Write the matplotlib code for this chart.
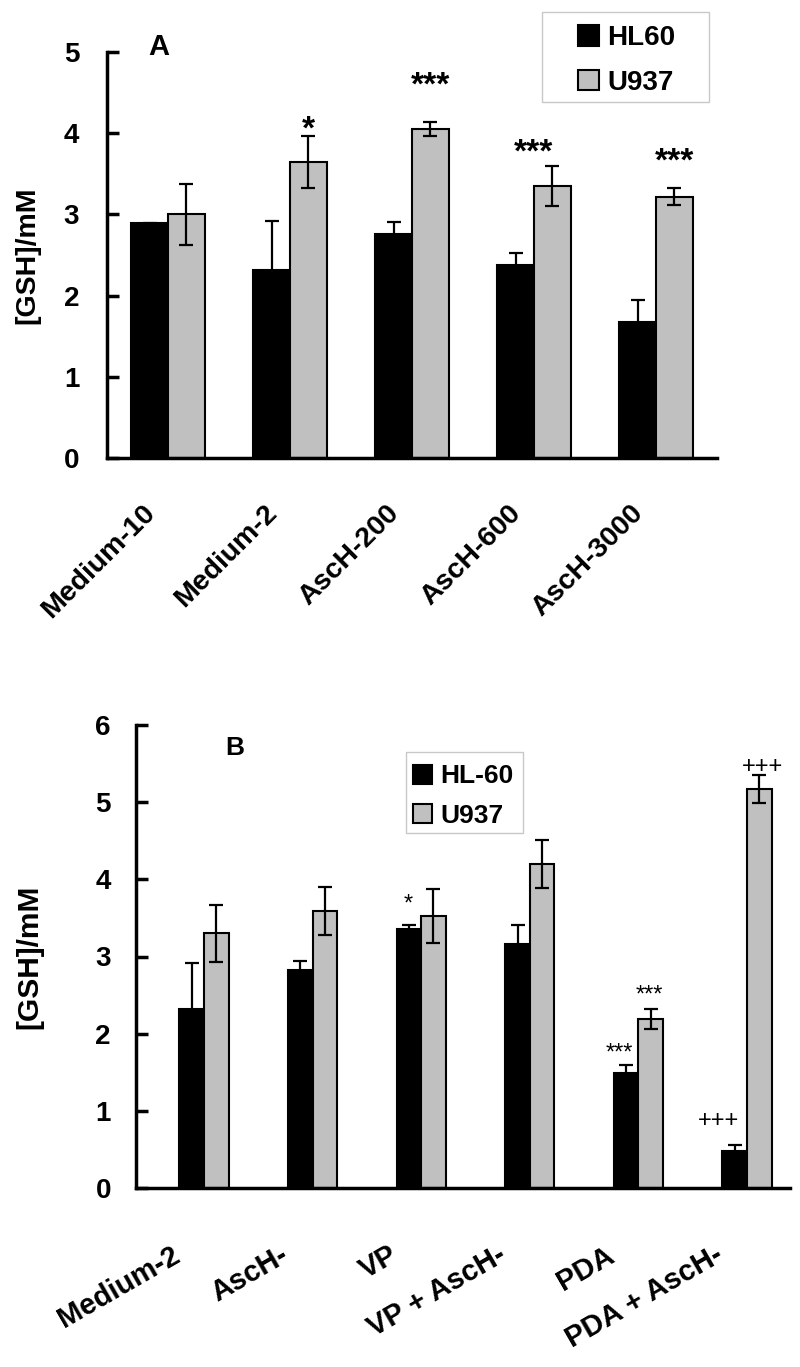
import matplotlib
matplotlib.use('Agg')
import matplotlib.pyplot as plt
from matplotlib.patches import Rectangle
from matplotlib.transforms import ScaledTranslation
import numpy as np

plt.rcParams['font.family'] = ['Liberation Sans', 'DejaVu Sans']
plt.rcParams['font.weight'] = 'bold'

# ---------------- data ----------------
a_categories = ['Medium-10', 'Medium-2', 'AscH-200', 'AscH-600', 'AscH-3000']
a_hl60 = [2.89, 2.32, 2.76, 2.38, 1.67]
a_hl60_err = [0.01, 0.60, 0.15, 0.14, 0.27]
a_u937 = [3.00, 3.65, 4.05, 3.35, 3.22]
a_u937_err = [0.38, 0.32, 0.09, 0.25, 0.10]
a_marks = ['', '*', '***', '***', '***']

b_categories = ['Medium-2', 'AscH-', 'VP', 'VP + AscH-', 'PDA', 'PDA + AscH-']
b_hl60 = [2.32, 2.82, 3.35, 3.16, 1.49, 0.48]
b_hl60_err = [0.60, 0.12, 0.06, 0.25, 0.10, 0.08]
b_u937 = [3.30, 3.59, 3.52, 4.20, 2.19, 5.17]
b_u937_err = [0.37, 0.31, 0.35, 0.31, 0.13, 0.18]
b_hl60_marks = ['', '', '*', '', '***', '+++']
b_u937_marks = ['', '', '', '', '***', '+++']

# ---------------- layout ----------------
# annotation placement (x offset from group centre, baseline y in data units)
a_mark_dx = [0, 0.15, 0.15, 0.0, 0.15]
a_mark_y = [0, 3.93, 4.475, 3.655, 3.535]
b_hl60_mark_dx = [0, 0, -0.115, 0, -0.175, -0.26]
b_hl60_mark_y = [0, 0, 3.59, 0, 1.67, 0.79]
b_u937_mark_dx = [0, 0, 0, 0, 0.10, 0.14]
b_u937_mark_y = [0, 0, 0, 0, 2.42, 5.38]

W, H = 800, 1367
fig = plt.figure(figsize=(W / 100, H / 100), dpi=100)

GRAY = '#c0c0c0'


def px_rect(l, t, r, b):
    return [l / W, 1 - b / H, (r - l) / W, (b - t) / H]


def style_axes(ax, pad):
    for s in ['top', 'right']:
        ax.spines[s].set_visible(False)
    for s in ['left', 'bottom']:
        ax.spines[s].set_linewidth(2.5)
    ax.tick_params(axis='y', direction='in', length=8.6, width=2.5,
                   labelsize=20, pad=pad)
    ax.tick_params(axis='x', length=0, labelbottom=False)
    for lab in ax.get_yticklabels():
        lab.set_fontweight('bold')


def draw_panel(ax, cats, hl, hle, u, ue, w, cap):
    x = np.arange(len(cats))
    b1 = ax.bar(x - w / 2, hl, w, color='black', edgecolor='black',
                linewidth=1.5, zorder=2)
    b2 = ax.bar(x + w / 2, u, w, color=GRAY, edgecolor='black',
                linewidth=1.5, zorder=2)
    ax.errorbar(x - w / 2, hl, yerr=hle, fmt='none', ecolor='black',
                elinewidth=1.6, capsize=cap, capthick=1.6, zorder=3)
    ax.errorbar(x + w / 2, u, yerr=ue, fmt='none', ecolor='black',
                elinewidth=1.6, capsize=cap, capthick=1.6, zorder=3)
    return x, b1, b2


def xlabels(ax, x, cats, rot, dx_px, dy_px, size):
    for xi, c in zip(x, cats):
        tr = ax.get_xaxis_transform() + ScaledTranslation(
            dx_px / 100, dy_px / 100, fig.dpi_scale_trans)
        ax.text(xi, 0, c, transform=tr, rotation=rot, rotation_mode='anchor',
                ha='right', va='baseline', fontsize=size, fontweight='bold',
                clip_on=False)


# ---------------- Panel A ----------------
axA = fig.add_axes(px_rect(107, 52, 717, 458))
xA, a1, a2 = draw_panel(axA, a_categories, a_hl60, a_hl60_err,
                        a_u937, a_u937_err, 0.3, 4.8)
axA.set_xlim(-0.5, 4.5)
axA.set_ylim(0, 5)
axA.set_yticks(range(0, 6))
style_axes(axA, 20)
xlabels(axA, xA, a_categories, 45, -12, -56, 20.5)
for xi, m, dx, yy in zip(xA, a_marks, a_mark_dx, a_mark_y):
    if m:
        axA.text(xi + dx, yy, m, ha='center', va='baseline', fontsize=24,
                 fontweight='bold')
axA.text(-0.164, 4.96, 'A', fontsize=21, fontweight='bold', ha='left',
         va='baseline')
axA.legend([a1, a2], ['HL60', 'U937'], loc='center left',
           bbox_to_anchor=(578 / W, 1 - 60.5 / H),
           bbox_transform=fig.transFigure, frameon=False, borderpad=0,
           borderaxespad=0, handlelength=0.75, handleheight=0.75,
           handletextpad=0.3, labelspacing=0.67,
           prop={'size': 20, 'weight': 'bold'})
fig.add_artist(Rectangle((542 / W, 1 - 102 / H), 167 / W, 90 / H,
                         transform=fig.transFigure, fill=False,
                         edgecolor='#c8c8c8', linewidth=1))
fig.text(27 / W, 1 - 255 / H, '[GSH]/mM', rotation=90, ha='center',
         va='center', fontsize=20.5, fontweight='bold')

# ---------------- Panel B ----------------
axB = fig.add_axes(px_rect(136, 725, 790, 1188))
xB, c1, c2 = draw_panel(axB, b_categories, b_hl60, b_hl60_err,
                        b_u937, b_u937_err, 0.226, 5.0)
axB.set_xlim(-0.626, 5.396)
axB.set_ylim(0, 6)
axB.set_yticks(range(0, 7))
style_axes(axB, 18)
xlabels(axB, xB, b_categories, 30, -22, -72, 21)
for xi, m, dx, yy in zip(xB, b_hl60_marks, b_hl60_mark_dx, b_hl60_mark_y):
    if m:
        axB.text(xi + dx, yy, m, ha='center', va='baseline', fontsize=17,
                 fontweight='normal')
for xi, m, dx, yy in zip(xB, b_u937_marks, b_u937_mark_dx, b_u937_mark_y):
    if m:
        axB.text(xi + dx, yy, m, ha='center', va='baseline', fontsize=17,
                 fontweight='normal')
axB.text(0.2, 5.61, 'B', fontsize=19, fontweight='bold', ha='left',
         va='baseline')
axB.legend([c1, c2], ['HL-60', 'U937'], loc='center left',
           bbox_to_anchor=(413 / W, 1 - 796 / H),
           bbox_transform=fig.transFigure, frameon=False, borderpad=0,
           borderaxespad=0, handlelength=0.72, handleheight=0.72,
           handletextpad=0.3, labelspacing=0.58,
           prop={'size': 19, 'weight': 'bold'})
fig.add_artist(Rectangle((406 / W, 1 - 833 / H), 117 / W, 81 / H,
                         transform=fig.transFigure, fill=False,
                         edgecolor='#c8c8c8', linewidth=1))
fig.text(29 / W, 1 - 957 / H, '[GSH]/mM', rotation=90, ha='center',
         va='center', fontsize=21.5, fontweight='bold')

fig.savefig('out.png', dpi=100)
